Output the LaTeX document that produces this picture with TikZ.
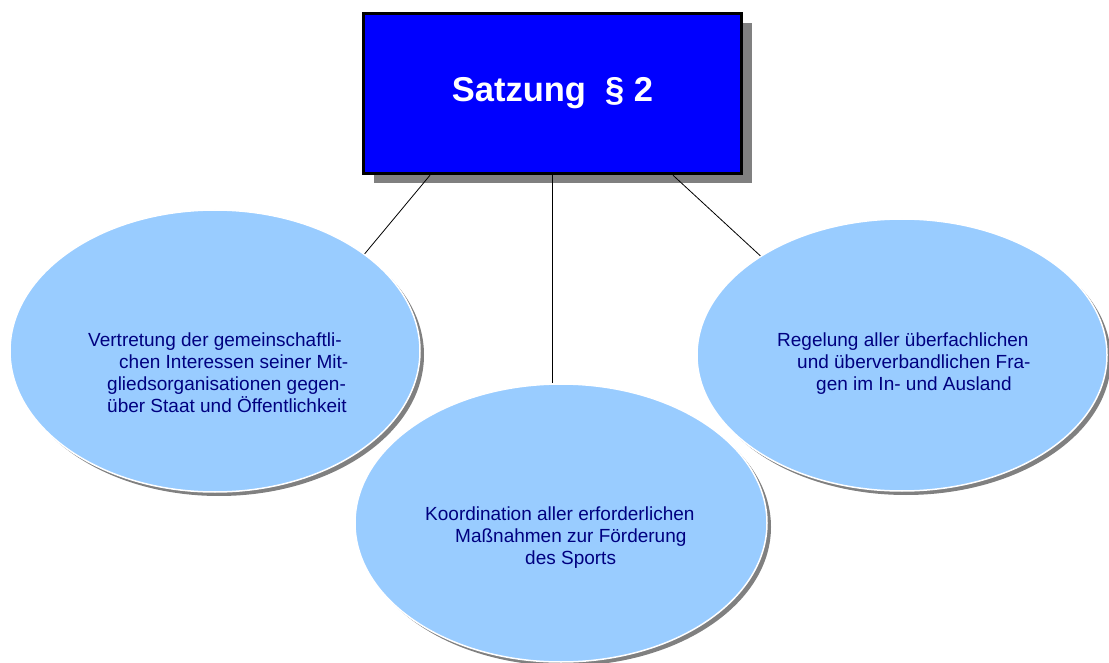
\documentclass[tikz,border=0pt]{standalone}
\usepackage{fontspec}
\setmainfont{Liberation Sans}
\usetikzlibrary{shapes.geometric,shadows}
\definecolor{boxblue}{HTML}{0000FF}
\definecolor{ellfill}{HTML}{99CCFF}
\definecolor{txtnavy}{HTML}{000080}
\definecolor{shadowgray}{HTML}{808080}
\begin{document}
\begin{tikzpicture}[x=1pt,y=-1pt,
  titlebox/.style={draw=black, line width=3.5pt, fill=boxblue, minimum width=378pt, minimum height=160pt, inner sep=0pt, text=white, font=\fontsize{34.5}{40}\selectfont\bfseries, drop shadow={shadow xshift=10pt, shadow yshift=-10pt, fill=shadowgray, opacity=1}},
  bubble/.style={ellipse, fill=ellfill, draw=white, line width=1.5pt, inner sep=0pt, drop shadow={shadow xshift=4pt, shadow yshift=-4pt, fill=shadowgray, opacity=1}},
  bubbletext/.style={anchor=north west, inner sep=0pt, align=left, text=txtnavy, font=\fontsize{19}{21.7}\selectfont},
  link/.style={draw=black, line width=0.8pt}]
\useasboundingbox (0,0) rectangle (1109,663);
\node[titlebox] (title) at (552.5,93.5) {\raisebox{-2pt}{Satzung\ \ § 2}};
\node[bubble, minimum width=410pt, minimum height=282pt] (el1) at (215,351) {};
\node[bubble, minimum width=410pt, minimum height=272pt] (el3) at (902,355) {};
\node[bubble, minimum width=412pt, minimum height=278pt] (el2) at (561,523) {};
\draw[link] ([xshift=-122.5pt]title.south) -- (el1.33);
\draw[link] (title.south) -- (title.south |- el2.north);
\draw[link] ([xshift=120.5pt]title.south) -- (el3.145);
\node[bubbletext] (t1) at (88,333) {Vertretung der gemeinschaftli-\\\hspace*{31pt}chen Interessen seiner Mit-\\\hspace*{19pt}gliedsorganisationen gegen-\\\hspace*{19pt}über Staat und Öffentlichkeit};
\node[bubbletext] (t3) at (777,333) {Regelung aller überfachlichen\\\hspace*{20pt}und überverbandlichen Fra-\\\hspace*{39pt}gen im In- und Ausland};
\node[bubbletext] (t2) at (425,507) {Koordination aller erforderlichen\\\hspace*{30pt}Maßnahmen zur Förderung\\\hspace*{100pt}des Sports};
\end{tikzpicture}
\end{document}
